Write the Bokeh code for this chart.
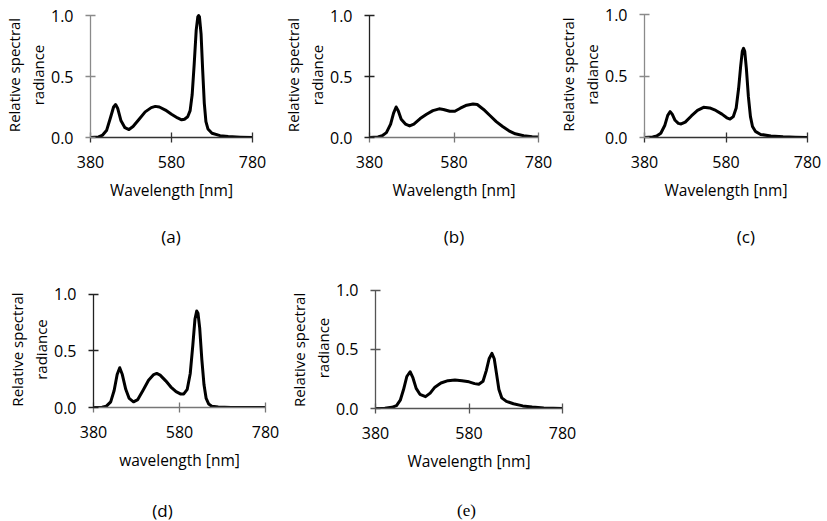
from bokeh.plotting import figure
from bokeh.layouts import column, row
from bokeh.models import Range1d, FixedTicker, NumeralTickFormatter
from bokeh.core.properties import value
from bokeh.embed import file_html
from bokeh.resources import INLINE

# ---------------- data ----------------
wl_a = [380, 400, 410, 420, 430, 437, 442, 447, 455, 465, 475, 485, 500, 515, 530, 540, 550,
        565, 580, 595, 605, 612, 620, 626, 631, 636, 641, 645, 647, 649, 653, 657, 661, 665,
        670, 680, 700, 720, 750, 780]
val_a = [0.0, 0.005, 0.02, 0.06, 0.17, 0.25, 0.27, 0.24, 0.14, 0.08, 0.065, 0.09, 0.15, 0.21,
         0.245, 0.255, 0.25, 0.225, 0.19, 0.16, 0.145, 0.15, 0.17, 0.22, 0.35, 0.6, 0.88, 0.99,
         1.0, 0.99, 0.85, 0.55, 0.28, 0.13, 0.07, 0.035, 0.015, 0.008, 0.003, 0.0]

wl_b = [380, 400, 410, 420, 430, 437, 443, 448, 455, 465, 475, 485, 500, 515, 530, 545, 555,
        570, 582, 595, 610, 625, 635, 650, 665, 680, 695, 710, 725, 745, 765, 780]
val_b = [0.0, 0.005, 0.015, 0.04, 0.11, 0.2, 0.25, 0.22, 0.15, 0.11, 0.095, 0.11, 0.155, 0.19,
         0.22, 0.235, 0.23, 0.215, 0.215, 0.24, 0.265, 0.275, 0.27, 0.23, 0.18, 0.13, 0.09,
         0.055, 0.03, 0.015, 0.007, 0.004]

wl_c = [380, 400, 410, 420, 430, 437, 443, 448, 455, 463, 470, 480, 495, 510, 525, 540, 555,
        570, 582, 590, 598, 605, 611, 616, 620, 623, 626, 630, 635, 640, 645, 652, 665, 690,
        720, 750, 780]
val_c = [0.0, 0.004, 0.012, 0.035, 0.1, 0.18, 0.21, 0.19, 0.14, 0.115, 0.11, 0.125, 0.175,
         0.22, 0.245, 0.24, 0.22, 0.19, 0.16, 0.15, 0.17, 0.24, 0.4, 0.58, 0.7, 0.725, 0.7,
         0.56, 0.33, 0.17, 0.09, 0.05, 0.025, 0.012, 0.006, 0.003, 0.0]

wl_d = [380, 400, 410, 420, 428, 435, 441, 447, 455, 463, 473, 483, 495, 508, 520, 527, 535,
        548, 560, 572, 582, 590, 598, 605, 611, 616, 620, 623, 627, 632, 637, 642, 648, 655,
        670, 700, 780]
val_d = [0.0, 0.003, 0.012, 0.05, 0.15, 0.29, 0.35, 0.29, 0.16, 0.08, 0.05, 0.07, 0.15, 0.24,
         0.29, 0.3, 0.285, 0.235, 0.18, 0.14, 0.12, 0.12, 0.16, 0.3, 0.55, 0.78, 0.85, 0.83,
         0.7, 0.42, 0.2, 0.08, 0.03, 0.012, 0.004, 0.001, 0.0]

wl_e = [380, 400, 415, 425, 433, 440, 447, 454, 460, 467, 475, 487, 497, 507, 520, 535, 550,
        565, 580, 592, 601, 610, 617, 623, 629, 634, 639, 644, 650, 660, 675, 695, 715, 740, 780]
val_e = [0.0, 0.003, 0.01, 0.025, 0.07, 0.16, 0.27, 0.31, 0.26, 0.17, 0.12, 0.1, 0.13, 0.18,
         0.215, 0.235, 0.24, 0.235, 0.225, 0.21, 0.205, 0.23, 0.32, 0.42, 0.465, 0.42, 0.29,
         0.16, 0.09, 0.06, 0.04, 0.022, 0.012, 0.005, 0.0]

x_ticks = [380, 580, 780]
y_ticks = [0.0, 0.5, 1.0]
captions = ["(a)", "(b)", "(c)", "(d)", "(e)"]
x_labels = ["Wavelength [nm]", "Wavelength [nm]", "Wavelength [nm]", "wavelength [nm]", "Wavelength [nm]"]
y_labels = ["Relative spectral\nradiance"] * 4 + ["Relative  spectral\nradiance"]

SANS = "Open Sans"


def panel(wl, val, width, height, left, right, top, bottom, y_end, xlab, ylab, ycol, xcol):
    p = figure(width=width, height=height, output_backend="svg", toolbar_location=None,
               min_border_left=left, min_border_right=right, min_border_top=top,
               min_border_bottom=bottom, x_range=Range1d(380, 780), y_range=Range1d(0, y_end))
    p.outline_line_color = None
    p.grid.visible = False
    p.background_fill_color = "white"
    p.border_fill_color = "white"
    p.line(wl, val, line_color="black", line_width=3, line_join="round")

    for ax, col in ((p.xaxis, xcol), (p.yaxis, ycol)):
        ax.axis_line_color = col
        ax.major_tick_line_color = col
        ax.axis_line_width = 1.3
        ax.major_tick_line_width = 1.3
        ax.major_tick_in = 5
        ax.major_tick_out = 5
        ax.minor_tick_line_color = None
        ax.major_label_text_font = SANS
        ax.major_label_text_font_size = "16px"
        ax.major_label_text_color = "black"
        ax.axis_label_text_font = SANS
        ax.axis_label_text_font_style = "normal"
        ax.axis_label_text_color = "black"

    p.xaxis.ticker = FixedTicker(ticks=x_ticks)
    p.xaxis.bounds = (380, 780)
    p.xaxis.major_label_standoff = 13
    p.xaxis.axis_label = xlab
    p.xaxis.axis_label_text_font_size = "15.5px"
    p.xaxis.axis_label_standoff = 8

    p.yaxis.ticker = FixedTicker(ticks=y_ticks)
    p.yaxis.bounds = (0, 1)
    p.yaxis.formatter = NumeralTickFormatter(format="0.0")
    p.yaxis.major_label_standoff = 12
    p.yaxis.axis_label = ylab
    p.yaxis.axis_label_text_font_size = "15px"
    p.yaxis.axis_label_standoff = 0
    return p


def caption(text, width, height, left, right, cx, cy_from_top, font):
    # the caption strip's frame lines up with the plot frame above it
    frame_w = width - left - right
    c = figure(width=width, height=height, output_backend="svg", toolbar_location=None,
               min_border_left=left, min_border_right=right, min_border_top=0,
               min_border_bottom=0, x_range=Range1d(0, frame_w), y_range=Range1d(0, height),
               x_axis_location=None, y_axis_location=None)
    c.outline_line_color = None
    c.grid.visible = False
    c.text(x=[cx], y=[height - cy_from_top], text=[text], text_font=value(font),
           text_font_size="17px", text_color="black", text_align="center",
           text_baseline="middle")
    return c


# row 1 : plots occupy y 0..222, captions y 222..262
pa = panel(wl_a, val_a, 279, 222, 89, 27, 12, 85, 125 / 122, x_labels[0], y_labels[0],
           "#8a8a8a", "#333333")
pb = panel(wl_b, val_b, 275, 222, 89, 16, 12, 85, 125 / 122, x_labels[1], y_labels[1],
           "#222222", "#777777")
pc = panel(wl_c, val_c, 273, 222, 89, 20, 11, 85, 126 / 123, x_labels[2], y_labels[2],
           "#8a8a8a", "#333333")
ca = caption(captions[0], 279, 40, 89, 27, 81, 14, SANS)
cb = caption(captions[1], 275, 40, 89, 16, 85, 14, SANS)
cc = caption(captions[2], 273, 40, 89, 20, 102, 14, SANS)

# row 2 : plots occupy y 262..493, captions y 493..521
pd = panel(wl_d, val_d, 285, 231, 93, 20, 29, 86, 116 / 113.5, x_labels[3], y_labels[3],
           "#222222", "#777777")
pe = panel(wl_e, val_e, 542, 231, 90, 265, 25, 85, 121 / 118.5, x_labels[4], y_labels[4],
           "#555555", "#555555")
cd = caption(captions[3], 285, 28, 93, 20, 69, 17, SANS)
ce = caption(captions[4], 542, 28, 90, 265, 91, 17, "Liberation Serif")

layout = column(
    row(column(pa, ca, spacing=0), column(pb, cb, spacing=0), column(pc, cc, spacing=0), spacing=0),
    row(column(pd, cd, spacing=0), column(pe, ce, spacing=0), spacing=0),
    spacing=0)

open("out.html", "w").write(file_html(layout, INLINE))
